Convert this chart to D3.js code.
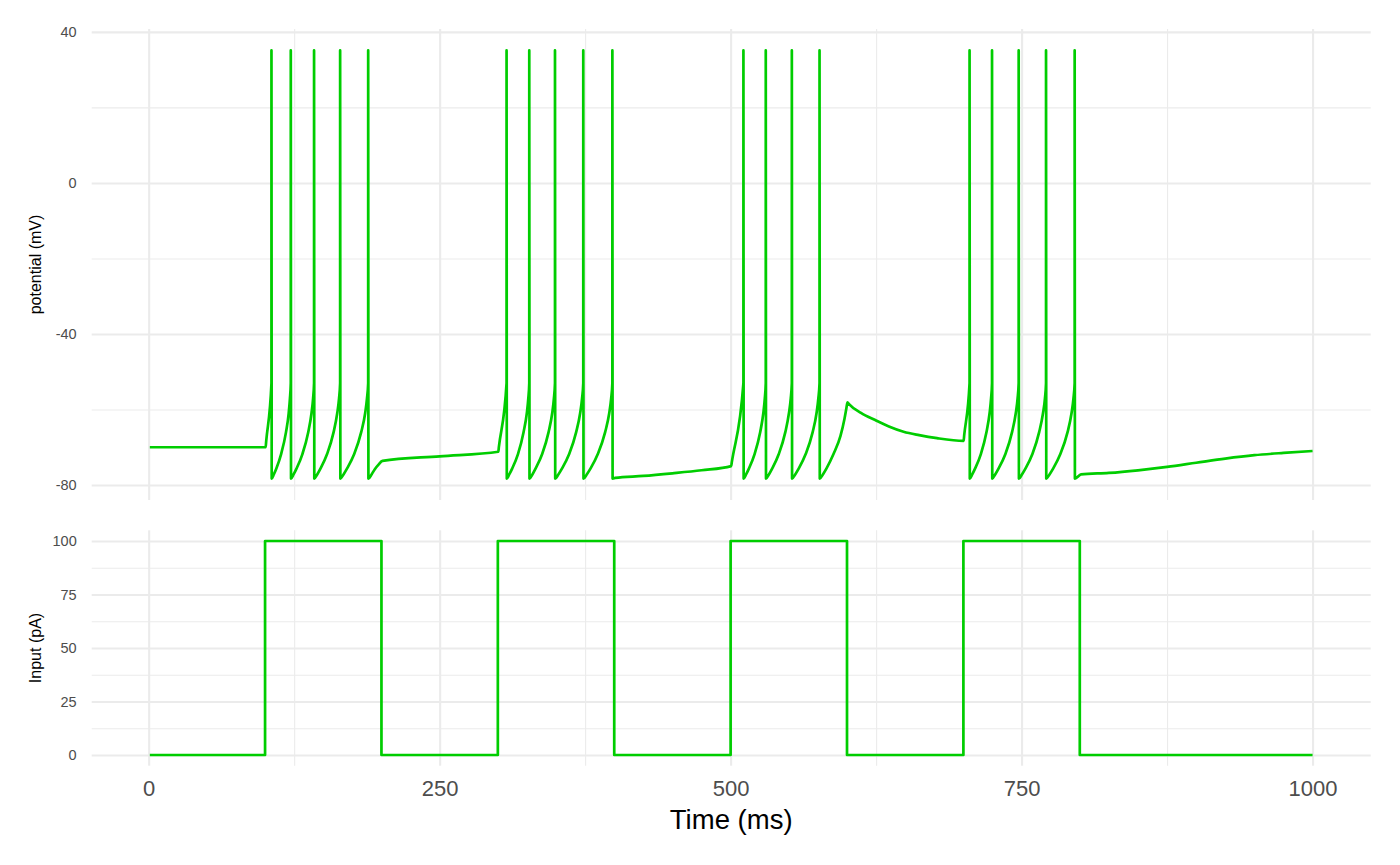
<!DOCTYPE html>
<html>
<head>
<meta charset="utf-8">
<script src="https://cdn.jsdelivr.net/npm/d3@7"></script>
<style>
  body { margin: 0; background: #fff; }
  text { font-family: "Liberation Sans", Arial, Helvetica, sans-serif; }
</style>
</head>
<body>
<div class="canvas"></div>
<script>
const timeTicks = [0, 250, 500, 750, 1000];
const timeMinor = [125, 375, 625, 875];
const potentialTicks = [40, 0, -40, -80];
const potentialMinor = [20, -20, -60];
const inputTicks = [0, 25, 50, 75, 100];
const inputMinor = [12.5, 37.5, 62.5, 87.5];

// input current, step held until next point
const inputSteps = [
  [1, 0], [100, 100], [200, 0], [300, 100], [400, 0],
  [500, 100], [600, 0], [700, 100], [800, 0], [1000, 0]
];

// membrane potential [time ms, mV]
const potentialTrace = [
  [1, -70], [100.5, -70], [101, -68.3],
  [105.5, -53], [105.5, 35.1], [105.7, -78.3],
  [107.5, -77.2], [109.7, -75.6], [113.8, -71.8], [118.0, -66.0], [120.3, -61.0], [121.4, -57.0],
  [122.1, -53], [122.1, 35.1], [122.3, -78.3],
  [124.5, -77.2], [127.1, -75.6], [132.1, -71.8], [137.1, -66.0], [139.9, -61.0], [141.3, -57.0],
  [142.1, -53], [142.1, 35.1], [142.3, -78.3],
  [144.8, -77.2], [147.7, -75.6], [153.3, -71.8], [158.9, -66.0], [162.0, -61.0], [163.6, -57.0],
  [164.5, -53], [164.5, 35.1], [164.7, -78.3],
  [167.4, -77.2], [170.5, -75.6], [176.6, -71.8], [182.6, -66.0], [186.0, -61.0], [187.6, -57.0],
  [188.6, -53], [188.6, 35.1], [188.8, -78.3],
  [191.5, -77.2], [194.3, -75.8], [197.5, -74.6], [200.9, -73.6], [250, -72.4], [300.4, -71.2], [300.9, -69.9],
  [307.5, -53], [307.5, 35.1], [307.7, -78.3],
  [309.8, -77.2], [312.4, -75.6], [317.3, -71.8], [322.1, -66.0], [324.9, -61.0], [326.2, -57.0],
  [327.0, -53], [327.0, 35.1], [327.2, -78.3],
  [329.7, -77.2], [332.5, -75.6], [338.1, -71.8], [343.6, -66.0], [346.7, -61.0], [348.2, -57.0],
  [349.1, -53], [349.1, 35.1], [349.3, -78.3],
  [352.0, -77.2], [355.2, -75.6], [361.3, -71.8], [367.3, -66.0], [370.7, -61.0], [372.4, -57.0],
  [373.4, -53], [373.4, 35.1], [373.6, -78.3],
  [376.4, -77.2], [379.7, -75.6], [385.9, -71.8], [392.2, -66.0], [395.7, -61.0], [397.4, -57.0],
  [398.4, -53], [398.4, 35.1], [398.6, -78.3],
  [400.8, -78.1], [425, -77.6], [450, -76.9], [475, -76.1], [500.5, -75.0], [501, -74.0],
  [511.0, -53], [511.0, 35.1], [511.2, -78.3],
  [513.3, -77.2], [515.8, -75.6], [520.6, -71.8], [525.4, -66.0], [528.1, -61.0], [529.4, -57.0],
  [530.2, -53], [530.2, 35.1], [530.4, -78.3],
  [532.9, -77.2], [535.8, -75.6], [541.4, -71.8], [547.0, -66.0], [550.1, -61.0], [551.7, -57.0],
  [552.6, -53], [552.6, 35.1], [552.8, -78.3],
  [555.5, -77.2], [558.6, -75.6], [564.5, -71.8], [570.5, -66.0], [573.8, -61.0], [575.4, -57.0],
  [576.4, -53], [576.4, 35.1], [576.6, -78.3],
  [579.3, -77.2], [582.4, -75.6], [588.4, -71.8], [594.4, -67.0], [597.8, -62.5], [599.4, -59.8],
  [600.4, -58.1], [601.5, -58.5], [612, -60.9], [624.2, -62.8], [636, -64.5], [648.6, -65.9], [662, -66.8],
  [677.3, -67.6], [700.2, -68.3], [700.7, -66.8],
  [705.3, -53], [705.3, 35.1], [705.5, -78.3],
  [707.6, -77.2], [710.1, -75.6], [715.0, -71.8], [719.8, -66.0], [722.5, -61.0], [723.8, -57.0],
  [724.6, -53], [724.6, 35.1], [724.8, -78.3],
  [727.3, -77.2], [730.3, -75.6], [736.1, -71.8], [741.8, -66.0], [745.0, -61.0], [746.6, -57.0],
  [747.5, -53], [747.5, 35.1], [747.7, -78.3],
  [750.3, -77.2], [753.4, -75.6], [759.3, -71.8], [765.1, -66.0], [768.4, -61.0], [770.1, -57.0],
  [771.0, -53], [771.0, 35.1], [771.2, -78.3],
  [774.0, -77.2], [777.2, -75.6], [783.3, -71.8], [789.5, -66.0], [792.9, -61.0], [794.6, -57.0],
  [795.6, -53], [795.6, 35.1], [795.8, -78.3],
  [801.1, -77.2], [825, -76.8], [850, -76.1], [875, -75.2], [900, -74.1],
  [925, -73.0], [950, -72.1], [975, -71.5], [1000, -71.0]
];

const lineColor = '#00CD00';
const gridColor = '#EBEBEB';

const dims = { width: 1400, height: 865 };
const plot = { left: 91.7, right: 1370.7 };
const topPanel = { top: 29, bottom: 500 };
const bottomPanel = { top: 530.3, bottom: 765.7 };

// ggplot style 5% expansion
const expand = ext => {
  const pad = (ext[1] - ext[0]) * 0.05;
  return [ext[0] - pad, ext[1] + pad];
};

const svg = d3.select('.canvas')
  .append('svg')
    .attr('width', dims.width)
    .attr('height', dims.height)

const x = d3.scaleLinear()
  .domain(expand(d3.extent(potentialTrace, d => d[0])))
  .range([plot.left, plot.right]);

const yTop = d3.scaleLinear()
  .domain(expand(d3.extent(potentialTrace, d => d[1])))
  .range([topPanel.bottom, topPanel.top]);

const yBottom = d3.scaleLinear()
  .domain(expand(d3.extent(inputSteps, d => d[1])))
  .range([bottomPanel.bottom, bottomPanel.top]);

var gridLines = (axis, values, shift, width) => {
  const a = svg.append('g')
    .attr('transform', shift)
    .call(axis.tickValues(values).tickFormat(''));
  a.select('.domain').remove();
  a.selectAll('line')
    .attr('stroke', gridColor)
    .attr('stroke-width', width);
};

var drawPanel = (panel, y, major, minor, label) => {
  const w = plot.right - plot.left;
  const h = panel.bottom - panel.top;

  gridLines(d3.axisLeft(y).tickSize(-w), minor, `translate(${plot.left},0)`, 1.1);
  gridLines(d3.axisBottom(x).tickSize(-h), timeMinor, `translate(0,${panel.bottom})`, 1.1);
  gridLines(d3.axisLeft(y).tickSize(-w), major, `translate(${plot.left},0)`, 2.1);
  gridLines(d3.axisBottom(x).tickSize(-h), timeTicks, `translate(0,${panel.bottom})`, 2.1);

  const labels = svg.append('g')
    .attr('transform', `translate(${plot.left},0)`)
    .call(d3.axisLeft(y).tickValues(major).tickSize(0).tickPadding(15).tickFormat(d => String(d)));
  labels.select('.domain').remove();
  labels.selectAll('text')
    .attr('fill', '#4D4D4D')
    .style('font-size', '14.5px')
    .style('font-family', '"Liberation Sans", Arial, sans-serif');

  svg.append('text')
    .attr('transform', `translate(41,${(panel.top + panel.bottom) / 2}) rotate(-90)`)
    .attr('text-anchor', 'middle')
    .attr('fill', '#000')
    .style('font-size', '16px')
    .text(label);
};

drawPanel(topPanel, yTop, potentialTicks, potentialMinor, 'potential (mV)');
drawPanel(bottomPanel, yBottom, inputTicks, inputMinor, 'Input (pA)');

const potentialLine = d3.line()
  .x(d => x(d[0]))
  .y(d => yTop(d[1]))
  .curve(d3.curveMonotoneX);

const inputLine = d3.line()
  .x(d => x(d[0]))
  .y(d => yBottom(d[1]))
  .curve(d3.curveStepAfter);

svg.append('path')
  .attr('d', potentialLine(potentialTrace))
  .attr('fill', 'none')
  .attr('stroke', lineColor)
  .attr('stroke-width', 2.7)
  .attr('stroke-linejoin', 'round');

svg.append('path')
  .attr('d', inputLine(inputSteps))
  .attr('fill', 'none')
  .attr('stroke', lineColor)
  .attr('stroke-width', 2.7)
  .attr('stroke-linejoin', 'round');

const xLabels = svg.append('g')
  .attr('transform', `translate(0,${bottomPanel.bottom})`)
  .call(d3.axisBottom(x).tickValues(timeTicks).tickSize(0).tickPadding(15).tickFormat(d => String(d)));
xLabels.select('.domain').remove();
xLabels.selectAll('text')
  .attr('fill', '#4D4D4D')
  .style('font-size', '22px')
  .style('font-family', '"Liberation Sans", Arial, sans-serif');

svg.append('text')
  .attr('x', (plot.left + plot.right) / 2)
  .attr('y', 829)
  .attr('text-anchor', 'middle')
  .attr('fill', '#000')
  .style('font-size', '27.5px')
  .text('Time (ms)');
</script>
</body>
</html>
